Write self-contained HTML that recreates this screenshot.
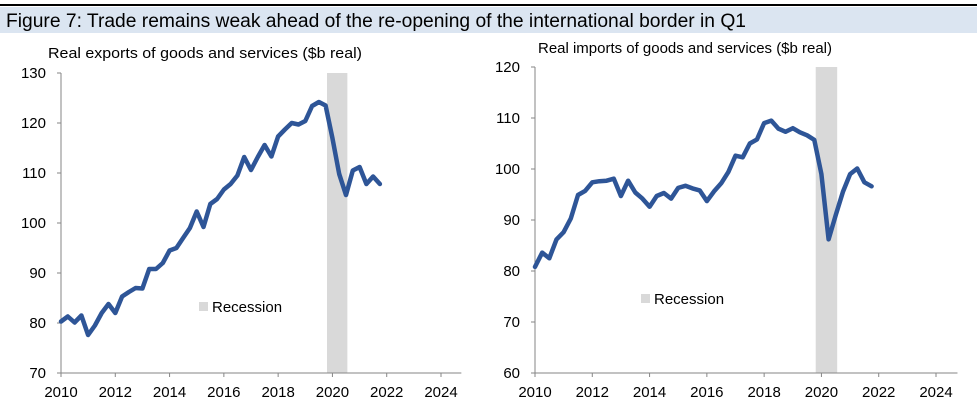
<!DOCTYPE html>
<html><head><meta charset="utf-8"><style>
body{margin:0;background:#fff;width:977px;height:407px;overflow:hidden;font-family:"Liberation Sans",Calibri,sans-serif}
</style></head><body>
<svg id="s" width="977" height="407" xmlns="http://www.w3.org/2000/svg" font-family="Liberation Sans, sans-serif">
<rect x="0" y="4" width="977" height="2" fill="#000"/>
<rect x="0" y="7" width="977" height="26" fill="#dbe5f1"/>
<text x="6" y="27" font-size="19" textLength="740" lengthAdjust="spacingAndGlyphs" fill="#000">Figure 7: Trade remains weak ahead of the re-opening of the international border in Q1</text>
<text x="48" y="58" font-size="15" textLength="314" lengthAdjust="spacingAndGlyphs" fill="#000">Real exports of goods and services ($b real)</text>
<text x="538" y="53" font-size="15" textLength="294" lengthAdjust="spacingAndGlyphs" fill="#000">Real imports of goods and services ($b real)</text>
<g id="c1"></g>
<g id="c2"></g>
</svg>
<script>
const exportsValues=[80.3,81.3,80.1,81.5,77.6,79.5,82,83.8,82,85.3,86.2,87,86.9,90.8,90.8,92,94.5,95,97,99,102.3,99.2,103.8,104.8,106.7,107.8,109.5,113.2,110.6,113.2,115.6,113.3,117.3,118.7,120,119.7,120.4,123.4,124.2,123.5,117,109.8,105.6,110.5,111.2,107.8,109.3,107.8];
const importsValues=[80.8,83.6,82.5,86.2,87.6,90.3,94.9,95.7,97.4,97.6,97.7,98.1,94.7,97.7,95.4,94.2,92.6,94.7,95.3,94.2,96.3,96.7,96.2,95.8,93.7,95.6,97.2,99.4,102.6,102.3,105,105.8,109,109.5,107.9,107.3,108,107.2,106.6,105.7,99,86.2,91,95.5,99,100.1,97.4,96.6];
const xTickLabels=["2010","2012","2014","2016","2018","2020","2022","2024"];
const exportsYTicks=[70,80,90,100,110,120,130];
const importsYTicks=[60,70,80,90,100,110,120];
const recession=[2019.8,2020.55];
const startYear=2010;
const NS="http://www.w3.org/2000/svg";
function mk(p,t,a){const e=document.createElementNS(NS,t);for(const k in a)e.setAttribute(k,a[k]);p.appendChild(e);return e;}
function draw(g,vals,yt,L,R,Y0,Y1,yMin,yMax,xMax,legX,legY){
  const x=v=>L+(v-2010)/(xMax-2010)*(R-L);
  const y=v=>Y0+(v-yMin)/(yMax-yMin)*(Y1-Y0);
  const axR=x(2024.75);
  const band=mk(g,'rect',{x:x(recession[0]),y:Y1,width:x(recession[1])-x(recession[0]),height:Y0-Y1,fill:'#d9d9d9'});
  
  
  const ya=mk(g,'line',{x1:L,y1:Y1,x2:L,y2:Y0,stroke:'#868686','stroke-width':1});
  
  
  const xa=mk(g,'line',{x1:L,y1:Y0,x2:axR,y2:Y0,stroke:'#868686','stroke-width':1});
  
  
  yt.forEach(v=>{
    mk(g,'line',{x1:L-4,y1:y(v),x2:L,y2:y(v),stroke:'#868686'});
    const t=mk(g,'text',{x:L-15,y:y(v)+5,'font-size':15,'text-anchor':'end',fill:'#000'});t.textContent=v;
    
    
  });
  xTickLabels.forEach(s=>{
    const xv=x(+s);
    mk(g,'line',{x1:xv,y1:Y0,x2:xv,y2:Y0+4,stroke:'#868686'});
    const t=mk(g,'text',{x:xv,y:Y0+24,'font-size':15,'text-anchor':'middle',fill:'#000'});t.textContent=s;
    
    
  });
  const pts=vals.map((v,i)=>x(startYear+i*0.25).toFixed(1)+','+y(v).toFixed(1)).join(' ');
  const pl=mk(g,'polyline',{points:pts,fill:'none',stroke:'#2e5597','stroke-width':4.5,'stroke-linejoin':'round','stroke-linecap':'round'});
  
  
  const lr=mk(g,'rect',{x:legX,y:legY-10,width:9,height:9,fill:'#d9d9d9'});
  
  
  const lt=mk(g,'text',{x:legX+13,y:legY,'font-size':15,fill:'#000'});lt.textContent='Recession';
  
  
}
draw(document.getElementById('c1'),exportsValues,exportsYTicks,61,441,373,73,70,130,2024,199,312);
draw(document.getElementById('c2'),importsValues,importsYTicks,535,936,373,67,60,120,2024,641,304);
</script>
</body></html>
